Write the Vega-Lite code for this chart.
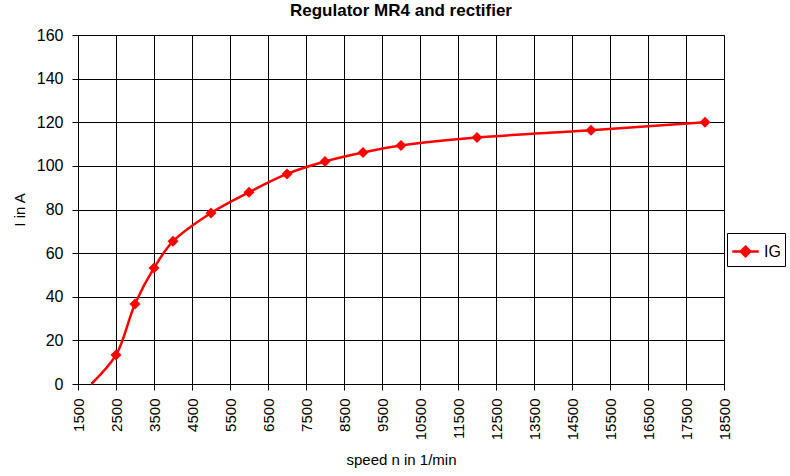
{
  "$schema": "https://vega.github.io/schema/vega-lite/v6.json",
  "width": 646,
  "height": 349,
  "autosize": {"type": "none"},
  "padding": {"left": 78, "top": 35, "right": 66, "bottom": 92},
  "background": "white",
  "title": {
    "text": "Regulator MR4 and rectifier",
    "font": "Liberation Sans",
    "fontSize": 17,
    "fontWeight": "bold",
    "color": "black",
    "anchor": "middle",
    "offset": 7
  },
  "config": {
    "view": {"stroke": "#808080", "strokeWidth": 1},
    "axis": {
      "labelFont": "Liberation Sans",
      "titleFont": "Liberation Sans",
      "labelFontSize": 15,
      "titleFontSize": 15,
      "titleFontWeight": "normal",
      "labelColor": "black",
      "titleColor": "black",
      "domainColor": "black",
      "tickColor": "black",
      "gridColor": "black",
      "gridOpacity": 1,
      "gridWidth": 1,
      "tickSize": 6
    }
  },
  "data": {
    "values": [
      {"n": 1850, "I": 0, "series": "IG"},
      {"n": 2500, "I": 13.3, "series": "IG"},
      {"n": 3000, "I": 36.7, "series": "IG"},
      {"n": 3500, "I": 53.2, "series": "IG"},
      {"n": 4000, "I": 65.4, "series": "IG"},
      {"n": 5000, "I": 78.4, "series": "IG"},
      {"n": 6000, "I": 87.9, "series": "IG"},
      {"n": 7000, "I": 96.3, "series": "IG"},
      {"n": 8000, "I": 102, "series": "IG"},
      {"n": 9000, "I": 106.1, "series": "IG"},
      {"n": 10000, "I": 109.3, "series": "IG"},
      {"n": 12000, "I": 113, "series": "IG"},
      {"n": 15000, "I": 116.3, "series": "IG"},
      {"n": 18000, "I": 120, "series": "IG"}
    ]
  },
  "encoding": {
    "x": {
      "field": "n",
      "type": "quantitative",
      "scale": {"domain": [1500, 18500], "nice": false, "zero": false},
      "axis": {
        "title": "speed n in 1/min",
        "values": [1500, 2500, 3500, 4500, 5500, 6500, 7500, 8500, 9500, 10500, 11500, 12500, 13500, 14500, 15500, 16500, 17500, 18500],
        "format": "d",
        "labelAngle": 270,
        "labelAlign": "right",
        "labelBaseline": "middle",
        "labelPadding": 8,
        "titlePadding": 13
      }
    },
    "y": {
      "field": "I",
      "type": "quantitative",
      "scale": {"domain": [0, 160], "nice": false},
      "axis": {
        "title": "I in A",
        "values": [0, 20, 40, 60, 80, 100, 120, 140, 160],
        "labelFontSize": 16,
        "labelPadding": 9,
        "titlePadding": 9
      }
    },
    "color": {
      "field": "series",
      "type": "nominal",
      "scale": {"range": ["#ff0000"]},
      "legend": {
        "title": null,
        "orient": "none",
        "legendX": 649,
        "legendY": 198,
        "strokeColor": "black",
        "fillColor": "white",
        "padding": 4,
        "symbolType": "M-1,0L1,0M0,-0.36L0.36,0L0,0.36L-0.36,0Z",
        "symbolSize": 700,
        "symbolFillColor": "#ff0000",
        "symbolStrokeColor": "#ff0000",
        "symbolStrokeWidth": 2.5,
        "labelFont": "Liberation Sans",
        "labelFontSize": 16,
        "labelColor": "black",
        "labelOffset": 4
      }
    }
  },
  "layer": [
    {
      "mark": {"type": "line", "interpolate": "catmull-rom", "strokeWidth": 2.5, "clip": false}
    },
    {
      "transform": [{"filter": "datum.n >= 2500"}],
      "mark": {"type": "point", "shape": "diamond", "filled": true, "size": 120, "opacity": 1}
    }
  ]
}
